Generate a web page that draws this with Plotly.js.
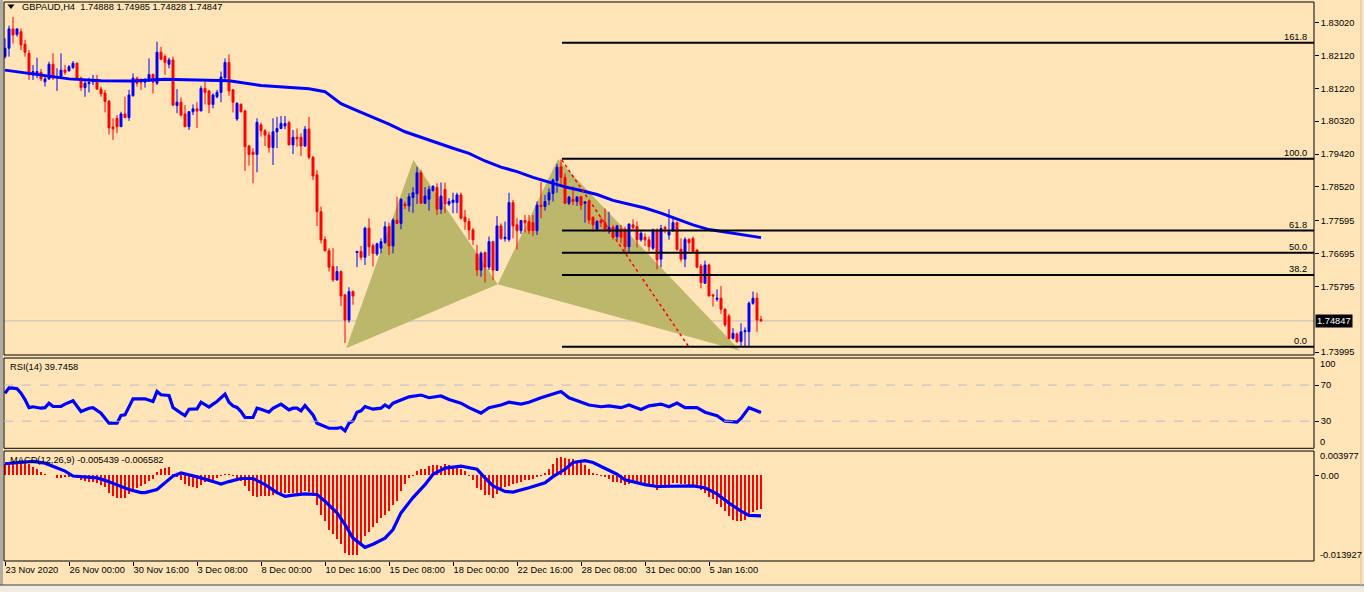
<!DOCTYPE html>
<html><head><meta charset="utf-8">
<script src="https://cdn.plot.ly/plotly-3.0.1.min.js"></script>
<style>html,body{margin:0;padding:0;background:#fee4b6;overflow:hidden}#chart{width:1364px;height:592px}</style>
</head><body><div id="chart"></div>
<script>
// ---------- DATA ----------
const symbolTitle = "GBPAUD,H4  1.74888 1.74985 1.74828 1.74847";
const timeTickIdx = [0,16,32,48,64,80,96,112,128,144,160,176];
const timeTickText = ["23 Nov 2020","26 Nov 00:00","30 Nov 16:00","3 Dec 08:00","8 Dec 00:00","10 Dec 16:00","15 Dec 08:00","18 Dec 00:00","22 Dec 16:00","28 Dec 08:00","31 Dec 00:00","5 Jan 16:00"];
const priceTicks = [1.83020,1.82120,1.81220,1.80320,1.79420,1.78520,1.77595,1.76695,1.75795,1.73995];
const lastPrice = 1.74847;

const open = [1.8209,1.8232,1.8285,1.8270,1.8277,1.8243,1.8218,1.8159,1.8160,1.8166,1.8140,1.8148,1.8188,1.8151,1.8154,1.8172,1.8170,1.8179,1.8191,1.8150,
1.8124,1.8135,1.8140,1.8147,1.8120,1.8109,1.8087,1.8016,1.8040,1.8017,1.8052,1.8042,1.8102,1.8150,1.8142,1.8139,1.8142,1.8160,1.8136,1.8221,
1.8209,1.8188,1.8200,1.8075,1.8084,1.8052,1.8017,1.8058,1.8066,1.8060,1.8122,1.8115,1.8078,1.8099,1.8111,1.8151,1.8193,1.8118,1.8038,1.8078,
1.8060,1.7964,1.7947,1.7941,1.8022,1.8006,1.7994,1.7960,1.8003,1.8012,1.8019,1.8028,1.7967,1.7988,1.7988,1.7964,1.8010,1.7933,1.7885,1.7784,
1.7708,1.7677,1.7634,1.7597,1.7620,1.7556,1.7487,1.7565,1.7672,1.7675,1.7659,1.7739,1.7691,1.7668,1.7684,1.7699,1.7743,1.7690,1.7761,1.7752,
1.7805,1.7800,1.7823,1.7833,1.7891,1.7807,1.7818,1.7842,1.7851,1.7791,1.7845,1.7805,1.7809,1.7809,1.7830,1.7769,1.7757,1.7734,1.7668,1.7624,
1.7672,1.7632,1.7702,1.7623,1.7745,1.7710,1.7708,1.7809,1.7748,1.7732,1.7760,1.7757,1.7754,1.7732,1.7802,1.7798,1.7816,1.7834,1.7869,1.7907,
1.7878,1.7807,1.7818,1.7812,1.7825,1.7807,1.7812,1.7768,1.7736,1.7760,1.7754,1.7732,1.7741,1.7716,1.7736,1.7736,1.7688,1.7748,1.7743,1.7707,
1.7714,1.7707,1.7684,1.7734,1.7654,1.7741,1.7720,1.7732,1.7754,1.7681,1.7654,1.7708,1.7711,1.7679,1.7635,1.7588,1.7638,1.7556,1.7544,1.7547,
1.7517,1.7498,1.7437,1.7449,1.7428,1.7455,1.7455,1.7533,1.7547,1.74888];
const high = [1.8259,1.8294,1.8318,1.8286,1.8286,1.8255,1.8227,1.8186,1.8206,1.8175,1.8159,1.8195,1.8218,1.8177,1.8218,1.8186,1.8186,1.8197,1.8193,1.8154,
1.8145,1.8151,1.8159,1.8159,1.8127,1.8118,1.8090,1.8040,1.8049,1.8058,1.8099,1.8118,1.8163,1.8154,1.8150,1.8150,1.8204,1.8163,1.8250,1.8236,
1.8215,1.8206,1.8209,1.8120,1.8097,1.8076,1.8060,1.8078,1.8084,1.8129,1.8140,1.8118,1.8108,1.8118,1.8168,1.8204,1.8215,1.8120,1.8084,1.8081,
1.8063,1.7967,1.7958,1.8040,1.8028,1.8010,1.8003,1.8040,1.8044,1.8046,1.8046,1.8033,1.8008,1.8012,1.7999,1.8019,1.8044,1.7937,1.7898,1.7798,
1.7716,1.7684,1.7684,1.7635,1.7623,1.7559,1.7577,1.7568,1.7677,1.7690,1.7743,1.7766,1.7696,1.7699,1.7711,1.7757,1.7754,1.7766,1.7825,1.7821,
1.7812,1.7834,1.7851,1.7907,1.7898,1.7851,1.7854,1.7857,1.7862,1.7864,1.7864,1.7821,1.7836,1.7836,1.7836,1.7789,1.7766,1.7739,1.7693,1.7675,
1.7675,1.7716,1.7702,1.7772,1.7752,1.7757,1.7836,1.7816,1.7766,1.7761,1.7775,1.7775,1.7775,1.7812,1.7866,1.7830,1.7848,1.7875,1.7915,1.7927,
1.7889,1.7827,1.7853,1.7827,1.7827,1.7812,1.7816,1.7772,1.7761,1.7768,1.7793,1.7784,1.7748,1.7748,1.7748,1.7743,1.7752,1.7763,1.7757,1.7732,
1.7725,1.7716,1.7738,1.7738,1.7748,1.7745,1.7791,1.7768,1.7757,1.7711,1.7714,1.7711,1.7716,1.7681,1.7641,1.7650,1.7641,1.7559,1.7571,1.7580,
1.7519,1.7504,1.7465,1.7453,1.7478,1.7467,1.7538,1.7565,1.7562,1.74985];
const low = [1.8204,1.8209,1.8245,1.8264,1.8227,1.8209,1.8145,1.8145,1.8150,1.8142,1.8127,1.8145,1.8145,1.8115,1.8150,1.8159,1.8168,1.8175,1.8145,1.8115,
1.8099,1.8111,1.8131,1.8118,1.8099,1.8056,1.7996,1.7981,1.7999,1.8017,1.8040,1.8033,1.8099,1.8127,1.8118,1.8124,1.8140,1.8108,1.8131,1.8200,
1.8159,1.8177,1.8075,1.8054,1.8045,1.8017,1.8008,1.8049,1.8013,1.8060,1.8078,1.8054,1.8067,1.8095,1.8084,1.8140,1.8102,1.8056,1.8033,1.8056,
1.7896,1.7910,1.7862,1.7892,1.7990,1.7964,1.7946,1.7912,1.7958,1.8010,1.8010,1.7967,1.7942,1.7962,1.7937,1.7962,1.7927,1.7871,1.7745,1.7697,
1.7675,1.7620,1.7592,1.7595,1.7526,1.7424,1.7480,1.7529,1.7632,1.7652,1.7638,1.7663,1.7634,1.7663,1.7670,1.7697,1.7665,1.7670,1.7750,1.7736,
1.7791,1.7784,1.7781,1.7805,1.7805,1.7805,1.7787,1.7839,1.7775,1.7778,1.7780,1.7800,1.7780,1.7780,1.7763,1.7734,1.7707,1.7693,1.7608,1.7606,
1.7590,1.7624,1.7597,1.7623,1.7707,1.7702,1.7702,1.7711,1.7681,1.7723,1.7727,1.7723,1.7717,1.7720,1.7766,1.7787,1.7802,1.7812,1.7836,1.7854,
1.7805,1.7802,1.7802,1.7800,1.7789,1.7754,1.7750,1.7729,1.7732,1.7741,1.7729,1.7723,1.7708,1.7707,1.7697,1.7675,1.7670,1.7734,1.7686,1.7702,
1.7690,1.7675,1.7679,1.7626,1.7632,1.7725,1.7707,1.7729,1.7677,1.7647,1.7632,1.7675,1.7672,1.7629,1.7574,1.7586,1.7553,1.7524,1.7538,1.7504,
1.7469,1.7434,1.7434,1.7425,1.7414,1.7414,1.7414,1.7529,1.7455,1.74828];
const close = [1.8232,1.8285,1.8268,1.8285,1.8241,1.8221,1.8159,1.8168,1.8168,1.8148,1.8148,1.8188,1.8150,1.8154,1.8172,1.8166,1.8181,1.8191,1.8150,1.8124,
1.8136,1.8138,1.8145,1.8120,1.8107,1.8086,1.8014,1.8011,1.8017,1.8052,1.8042,1.8104,1.8150,1.8136,1.8139,1.8144,1.8160,1.8139,1.8221,1.8202,
1.8193,1.8200,1.8076,1.8084,1.8049,1.8017,1.8058,1.8066,1.8060,1.8122,1.8111,1.8078,1.8104,1.8111,1.8153,1.8193,1.8115,1.8084,1.8081,1.8058,
1.7962,1.7941,1.7941,1.8029,1.8006,1.7994,1.7960,1.8003,1.8012,1.8026,1.8026,1.7967,1.7988,1.7984,1.7964,1.8010,1.7933,1.7882,1.7784,1.7707,
1.7677,1.7632,1.7597,1.7620,1.7553,1.7487,1.7565,1.7553,1.7675,1.7659,1.7739,1.7688,1.7670,1.7696,1.7702,1.7743,1.7690,1.7761,1.7752,1.7818,
1.7800,1.7825,1.7836,1.7891,1.7807,1.7827,1.7845,1.7853,1.7791,1.7827,1.7805,1.7812,1.7816,1.7830,1.7766,1.7757,1.7734,1.7707,1.7624,1.7670,
1.7632,1.7702,1.7624,1.7745,1.7711,1.7714,1.7809,1.7745,1.7732,1.7760,1.7754,1.7732,1.7732,1.7802,1.7798,1.7812,1.7836,1.7871,1.7906,1.7878,
1.7807,1.7824,1.7812,1.7824,1.7802,1.7811,1.7761,1.7748,1.7757,1.7754,1.7734,1.7741,1.7714,1.7745,1.7714,1.7688,1.7750,1.7741,1.7707,1.7725,
1.7707,1.7688,1.7734,1.7652,1.7738,1.7738,1.7729,1.7754,1.7681,1.7654,1.7708,1.7699,1.7675,1.7632,1.7590,1.7638,1.7553,1.7553,1.7547,1.7517,
1.7474,1.7437,1.7451,1.7428,1.7455,1.7458,1.7533,1.7547,1.7487,1.74847];

// moving average (sampled along the line)
const maIdx = [0,8,16,24,32,40,48,56,64,72,76,80,84,88,92,96,100,104,108,112,116,120,124,128,132,136,140,144,148,152,156,160,164,168,172,176,180,184,189];
const maVal = [1.8172,1.8159,1.8148,1.8143,1.8142,1.8147,1.8145,1.8143,1.8130,1.8123,1.8121,1.8113,1.8080,1.8061,1.8043,1.8024,1.8003,1.7989,1.7973,1.7958,1.7944,1.7923,1.7906,1.7894,1.7878,1.7865,1.7852,1.7842,1.7831,1.7815,1.7805,1.7794,1.7780,1.7764,1.7748,1.7735,1.7728,1.7720,1.7713];

// harmonic pattern points X, A, B, C, D
const patIdx = [85.3, 102.1, 123.2, 138.2, 183.8];
const patPrice = [1.7410, 1.7926, 1.7585, 1.7928, 1.7403];
// red dotted trend line
const trendIdx = [139.2, 170.8];
const trendPrice = [1.7926, 1.7416];
// fibonacci
const fibStartIdx = 139.25;
const fibHigh = 1.7929, fibLow = 1.7414;
const fibLevels = [0, 38.2, 50.0, 61.8, 100.0, 161.8];

// RSI(14) sampled
const rsiIdx = [0,1,2,3,4,5,6,7,9,10,11,12,14,15,17,18,19,21,22,24,25,26,28,29,30,31,32,35,37,38,39,41,42,44,45,46,48,49,51,52,53,55,56,57,58,59,60,62,63,64,66,67,69,71,72,73,74,75,77,78,80,81,83,84,85,86,87,88,89,90,92,94,95,96,97,99,101,104,106,109,111,114,116,119,121,124,126,129,131,134,136,139,141,144,146,149,151,154,156,159,161,164,166,168,170,173,175,178,180,183,184,186,187,189];
const rsiVal = [61,67,66.7,66,61,54,45,46,44.4,45,50,46.3,46.3,48.9,52.6,46.3,40.7,44.4,45,38.9,33.3,27.8,27.8,36.3,37,46.3,54.8,54.8,51.8,63,59.3,58.5,45.2,38.9,36.3,43.3,43.7,51.1,45.6,48.9,51.8,60,51.1,47,45.2,40.7,34.1,34.1,44.4,43.3,40,44.4,48.9,42.6,44.4,44.4,41.5,47.4,37,27.8,24.1,22.2,22.2,23,19.3,27.8,30.4,40,41.5,46.3,43.3,44.4,48.1,45.2,50,53.7,57,59,56,58,54,50,45,39,45,48,51,49,51,56,59,63,56,51,48,46,47,45,48,43,47,49,46,50,45,45,40,36,30,29,33,45,43,39.7458];
const rsiLevels = [70, 30];

// MACD(12,26,9): main (histogram) and signal
const macdMain = [0.0019,0.0021,0.0023,0.0024,0.0024,0.0022,0.0019,0.0014,0.0010,0.0006,0.0002,0.00005,0.0000,-0.0004,-0.0004,-0.0003,-0.0002,-0.0002,-0.0004,-0.0008,
-0.0009,-0.0010,-0.0011,-0.0012,-0.0015,-0.0019,-0.0028,-0.0034,-0.0037,-0.0037,-0.0036,-0.0031,-0.0024,-0.0021,-0.0017,-0.0014,-0.0009,-0.0005,0.0006,0.0010,
0.0012,0.0014,0.0003,-0.0003,-0.0008,-0.0014,-0.0017,-0.0019,-0.0020,-0.0015,-0.0010,-0.0010,-0.0008,-0.0004,-0.0001,0.0003,0.0003,-0.0001,-0.0007,-0.0009,
-0.0017,-0.0026,-0.0034,-0.0035,-0.0034,-0.0034,-0.0034,-0.0032,-0.0030,-0.0028,-0.0028,-0.0028,-0.0028,-0.0028,-0.0028,-0.0026,-0.0027,-0.0034,-0.0048,-0.0064,
-0.0074,-0.0088,-0.0096,-0.0104,-0.0112,-0.0126,-0.0129,-0.0130,-0.0129,-0.0112,-0.0099,-0.0092,-0.0084,-0.0077,-0.0070,-0.0065,-0.0058,-0.0048,-0.0041,-0.0026,
-0.0014,-0.0004,-0.0001,0.0007,0.0010,0.0011,0.0015,0.0017,0.0017,0.0015,0.0018,0.0017,0.0015,0.0015,0.0011,0.0007,-0.0001,-0.0007,-0.0020,-0.0023,
-0.0032,-0.0032,-0.0036,-0.0030,-0.0026,-0.0019,-0.0017,-0.0014,-0.0012,-0.0010,-0.0008,-0.0007,-0.0005,-0.0003,-0.0001,0.0004,0.0010,0.0019,0.0028,0.0030,
0.0028,0.0026,0.0026,0.0023,0.0021,0.0017,0.0011,0.0004,0.0002,-0.0001,-0.0003,-0.0005,-0.0010,-0.0010,-0.0012,-0.0015,-0.0014,-0.0012,-0.0014,-0.0015,
-0.0015,-0.0016,-0.0017,-0.0023,-0.0020,-0.0019,-0.0017,-0.0012,-0.0012,-0.0014,-0.0014,-0.0015,-0.0015,-0.0017,-0.0023,-0.0028,-0.0035,-0.0039,-0.0046,-0.0052,
-0.0058,-0.0066,-0.0072,-0.0074,-0.0074,-0.0073,-0.0066,-0.0059,-0.0057,-0.005439];
const sigIdx = [0,4,7,10,12,15,17,20,23,25,28,31,34,35,38,40,42,44,46,49,53,54,56,59,62,65,68,70,72,75,78,80,83,85,87,89,90,92,95,97,99,102,105,107,110,114,118,120,122,125,127,131,135,137,140,142,145,147,150,153,155,158,160,163,168,172,175,178,181,184,186,189];
const sigVal = [0.0019,0.0022,0.0023,0.0020,0.0015,0.0007,-0.0001,-0.0003,-0.0004,-0.0008,-0.0015,-0.0023,-0.0028,-0.0028,-0.0023,-0.0012,-0.0001,0.0004,0.0001,-0.0004,-0.0012,-0.0014,-0.0010,-0.0005,-0.0005,-0.0015,-0.0028,-0.0034,-0.0032,-0.0030,-0.0031,-0.0042,-0.0061,-0.0080,-0.0102,-0.0112,-0.0117,-0.0112,-0.0102,-0.0088,-0.0061,-0.0036,-0.0015,0.0002,0.0012,0.0015,0.0010,-0.0004,-0.0017,-0.0026,-0.0027,-0.0020,-0.0012,-0.0002,0.0010,0.0021,0.0024,0.0021,0.0012,0.0002,-0.0007,-0.0012,-0.0015,-0.0018,-0.0017,-0.0017,-0.0020,-0.0030,-0.0045,-0.0058,-0.0065,-0.006582];
const rsiLabel = "RSI(14) 39.7458";
const macdLabel = "MACD(12,26,9) -0.005439 -0.006582";
const macdTop = 0.003977, macdBottom = -0.013927;

// ---------- LAYOUT GEOMETRY ----------
const BG = "#fee4b6";
const FONT = "Liberation Sans, Arial, sans-serif";
const FS = 9.3;
const PL = 4, PR = 1314, PT = 2, PB = 561;
const px = v => (v - PL) / (PR - PL);
const py = v => (PB - v) / (PB - PT);
const domPrice = [py(355), 1];
const domRsi = [py(448.3), py(358)];
const domMacd = [0, py(451)];
const barIdx = open.map((_, i) => i);

const traces = [];
// candles
traces.push({type:'candlestick', x:barIdx, open:open, high:high, low:low, close:close, xaxis:'x', yaxis:'y',
  increasing:{line:{color:'#0000ff', width:1}, fillcolor:'#0000ff'},
  decreasing:{line:{color:'#ff0000', width:1}, fillcolor:'#ff0000'},
  whiskerwidth:0, hoverinfo:'skip'});
// moving average
traces.push({type:'scatter', mode:'lines', x:maIdx, y:maVal, line:{color:'#0000ff', width:3}, xaxis:'x', yaxis:'y', hoverinfo:'skip'});
// red dotted trend line
traces.push({type:'scatter', mode:'lines', x:trendIdx, y:trendPrice, line:{color:'#ff0000', width:1.5, dash:'dot'}, xaxis:'x', yaxis:'y', hoverinfo:'skip'});
// RSI
traces.push({type:'scatter', mode:'lines', x:rsiIdx, y:rsiVal, line:{color:'#0000ff', width:3.2}, xaxis:'x', yaxis:'y2', hoverinfo:'skip'});
// MACD histogram
traces.push({type:'bar', x:barIdx, y:macdMain, width:0.65, marker:{color:'#ff0000', line:{width:0}}, xaxis:'x', yaxis:'y3', hoverinfo:'skip'});
// MACD signal
traces.push({type:'scatter', mode:'lines', x:sigIdx, y:sigVal, line:{color:'#0000ff', width:3.2}, xaxis:'x', yaxis:'y3', hoverinfo:'skip'});

const shapes = [];
const annotations = [];
// harmonic pattern triangles (under the candles)
const tri = (a, b, c) => `M ${patIdx[a]},${patPrice[a]} L ${patIdx[b]},${patPrice[b]} L ${patIdx[c]},${patPrice[c]} Z`;
shapes.push({type:'path', xref:'x', yref:'y', path:tri(0,1,2), fillcolor:'#bdb76b', line:{width:0}, layer:'below'});
shapes.push({type:'path', xref:'x', yref:'y', path:tri(2,3,4), fillcolor:'#bdb76b', line:{width:0}, layer:'below'});
// panel frames
[domPrice, domRsi, domMacd].forEach(d => {
  shapes.push({type:'rect', xref:'paper', yref:'paper', x0:0, x1:1, y0:d[0], y1:d[1], line:{color:'#000', width:1}, layer:'above'});
});
// left gray strip & bottom strip
shapes.push({type:'rect', xref:'paper', yref:'paper', x0:px(0), x1:px(3), y0:py(0), y1:py(592), fillcolor:'#b0aca4', line:{width:0}});
shapes.push({type:'rect', xref:'paper', yref:'paper', x0:px(0), x1:px(1364), y0:py(585), y1:py(592), fillcolor:'#f0ece4', line:{width:0}});
shapes.push({type:'line', xref:'paper', yref:'paper', x0:px(0), x1:px(1364), y0:py(585), y1:py(585), line:{color:'#404040', width:1}});
shapes.push({type:'line', xref:'paper', yref:'paper', x0:px(1361), x1:px(1361), y0:py(0), y1:py(585), line:{color:'#c8c4bc', width:1}});
// last-price gray line
shapes.push({type:'line', xref:'paper', yref:'y', x0:0, x1:1, y0:lastPrice, y1:lastPrice, line:{color:'#c0c0c0', width:1}, layer:'below'});
// fibonacci levels
const fibRange = fibHigh - fibLow;
fibLevels.forEach(l => {
  const v = fibLow + fibRange * l / 100;
  shapes.push({type:'line', xref:'x', yref:'y', x0:fibStartIdx, x1:327.25, y0:v, y1:v, line:{color:'#000000', width:2}});
  annotations.push({xref:'paper', yref:'y', x:px(1309), y:v, xanchor:'right', yanchor:'bottom', yshift:-1, text:l.toFixed(1),
    showarrow:false, font:{family:FONT, size:FS, color:'#000'}});
});
// RSI levels
rsiLevels.forEach(l => {
  shapes.push({type:'line', xref:'paper', yref:'y2', x0:0, x1:1, y0:l, y1:l, line:{color:'#b8bccc', width:1, dash:'dash'}});
});
// title triangle
shapes.push({type:'path', xref:'paper', yref:'paper',
  path:`M ${px(7.5)} ${py(4.5)} L ${px(14.5)} ${py(4.5)} L ${px(11)} ${py(9)} Z`, fillcolor:'#000', line:{width:0}});

// texts
const txt = (x, y, t, extra={}) => Object.assign({xref:'paper', yref:'paper', x:px(x), y:py(y), text:t, showarrow:false,
  xanchor:'left', yanchor:'middle', font:{family:FONT, size:FS, color:'#000'}}, extra);
annotations.push(txt(20, 7, symbolTitle));
annotations.push(txt(8, 366.5, rsiLabel));
annotations.push(txt(8, 460, macdLabel));
annotations.push(txt(1318, 364, '100'));
annotations.push(txt(1318, 441.5, '0'));
annotations.push(txt(1318, 456.5, macdTop.toFixed(6)));
annotations.push(txt(1318, 555, macdBottom.toFixed(6)));
annotations.push({xref:'paper', yref:'y', x:px(1315), y:lastPrice, xanchor:'left', yanchor:'middle', text:lastPrice.toFixed(5),
  showarrow:false, bgcolor:'#000000', borderpad:1, font:{family:FONT, size:FS, color:'#ffffff'}});

const axisFont = {family:FONT, size:FS, color:'#000'};
const layout = {
  width:1364, height:592,
  margin:{l:PL, r:1364-PR, t:PT, b:592-PB, pad:0},
  paper_bgcolor:BG, plot_bgcolor:BG,
  showlegend:false, hovermode:false, bargap:0,
  font:{family:FONT, size:FS, color:'#000'},
  xaxis:{domain:[0,1], anchor:'y3', range:[-0.25, 327.25], showgrid:false, zeroline:false, showline:false,
    ticks:'outside', ticklen:4, tickcolor:'#000', tickwidth:1, tickangle:0, automargin:false,
    tickmode:'array', tickvals:timeTickIdx, ticktext:timeTickText, ticklabelposition:'outside right',
    tickfont:axisFont, rangeslider:{visible:false}, fixedrange:true},
  yaxis:{domain:domPrice, anchor:'x', side:'right', range:[1.73913, 1.83587], showgrid:false, zeroline:false, showline:false,
    ticks:'outside', ticklen:4, tickcolor:'#000', tickmode:'array', tickvals:priceTicks, ticktext:priceTicks.map(v=>v.toFixed(5)),
    tickfont:axisFont, fixedrange:true, automargin:false},
  yaxis2:{domain:domRsi, anchor:'x', side:'right', range:[0,100], showgrid:false, zeroline:false, showline:false,
    ticks:'outside', ticklen:4, tickcolor:'#000', tickmode:'array', tickvals:rsiLevels, ticktext:rsiLevels.map(String),
    tickfont:axisFont, fixedrange:true, automargin:false},
  yaxis3:{domain:domMacd, anchor:'x', side:'right', range:[macdBottom, macdTop], showgrid:false, zeroline:false, showline:false,
    ticks:'outside', ticklen:4, tickcolor:'#000', tickmode:'array', tickvals:[0], ticktext:['0.00'],
    tickfont:axisFont, fixedrange:true, automargin:false},
  shapes:shapes, annotations:annotations
};
Plotly.newPlot('chart', traces, layout, {displayModeBar:false, staticPlot:true});
</script>
</body></html>
